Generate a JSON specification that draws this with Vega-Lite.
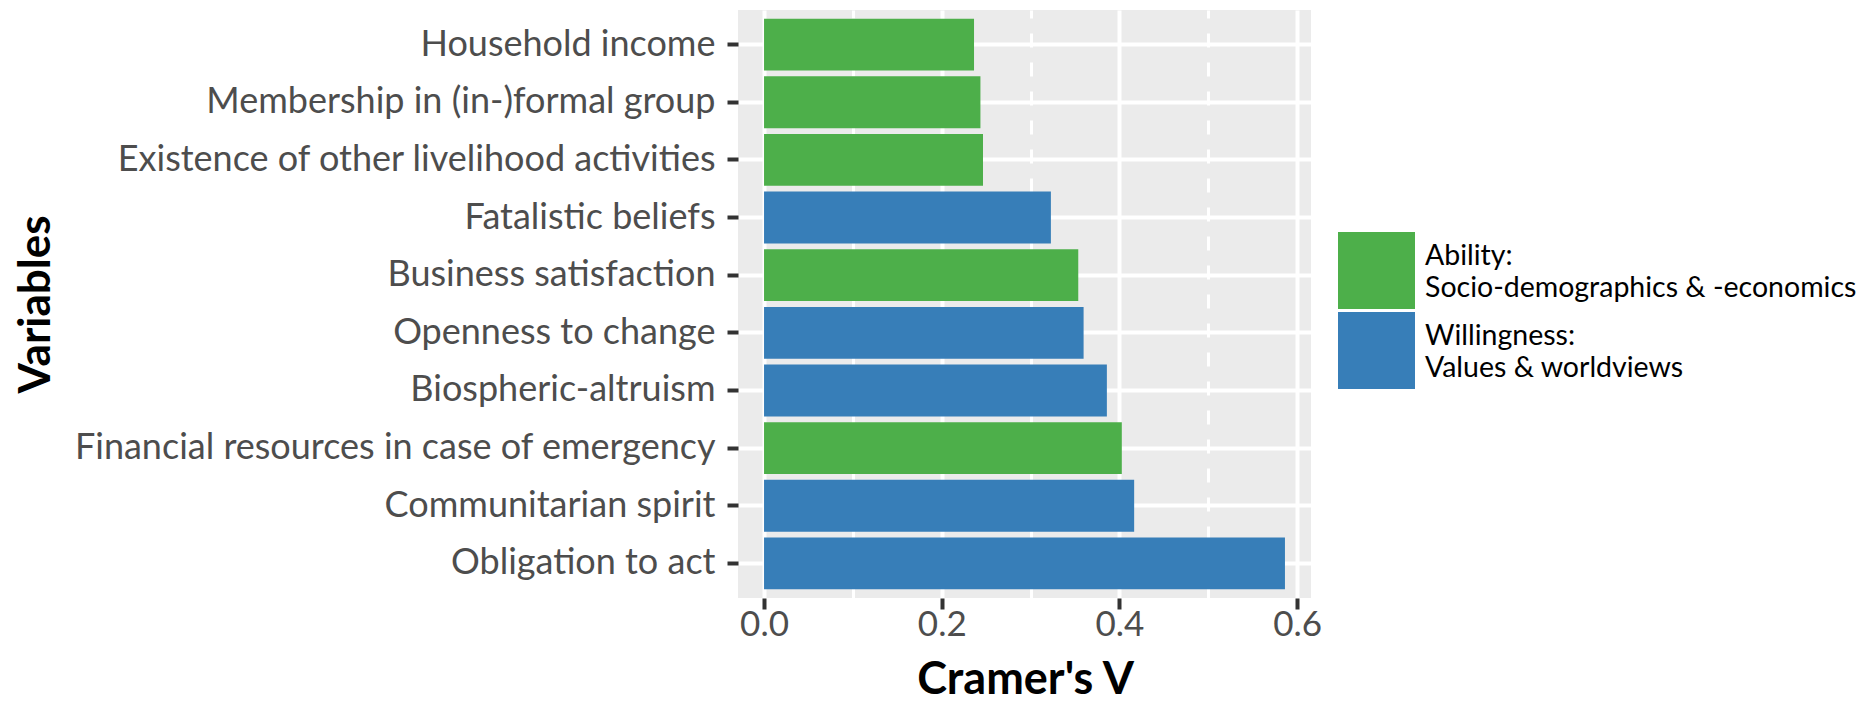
{
  "$schema": "https://vega.github.io/schema/vega-lite/v6.json",
  "autosize": {"type": "none"},
  "padding": {"left": 738, "top": 10, "right": 553, "bottom": 106},
  "width": 573,
  "height": 588,
  "background": "white",
  "config": {
    "view": {"fill": "#EBEBEB", "stroke": null},
    "font": "Lato",
    "style": {"guide-label": {"lineHeight": 32}}
  },
  "data": {
    "values": [
      {"variable": "Household income", "v": 0.2363, "group": "Ability: Socio-demographics & -economics"},
      {"variable": "Membership in (in-)formal group", "v": 0.2435, "group": "Ability: Socio-demographics & -economics"},
      {"variable": "Existence of other livelihood activities", "v": 0.2464, "group": "Ability: Socio-demographics & -economics"},
      {"variable": "Fatalistic beliefs", "v": 0.3228, "group": "Willingness: Values & worldviews"},
      {"variable": "Business satisfaction", "v": 0.3536, "group": "Ability: Socio-demographics & -economics"},
      {"variable": "Openness to change", "v": 0.3596, "group": "Willingness: Values & worldviews"},
      {"variable": "Biospheric-altruism", "v": 0.3858, "group": "Willingness: Values & worldviews"},
      {"variable": "Financial resources in case of emergency", "v": 0.4026, "group": "Ability: Socio-demographics & -economics"},
      {"variable": "Communitarian spirit", "v": 0.4165, "group": "Willingness: Values & worldviews"},
      {"variable": "Obligation to act", "v": 0.5862, "group": "Willingness: Values & worldviews"}
    ]
  },
  "mark": {"type": "bar"},
  "encoding": {
    "y": {
      "field": "variable",
      "type": "nominal",
      "sort": ["Household income", "Membership in (in-)formal group", "Existence of other livelihood activities", "Fatalistic beliefs", "Business satisfaction", "Openness to change", "Biospheric-altruism", "Financial resources in case of emergency", "Communitarian spirit", "Obligation to act"],
      "scale": {"paddingInner": 0.1, "paddingOuter": 0.15},
      "axis": {
        "title": "Variables",
        "titleFont": "Lato",
        "titleFontSize": 44,
        "titleFontWeight": "bold",
        "titleColor": "#000000",
        "titleX": -702,
        "titleY": 294,
        "titleAngle": -90,
        "titleAlign": "center",
        "titleBaseline": "middle",
        "labelFont": "Lato",
        "labelFontSize": 36,
        "labelColor": "#4D4D4D",
        "labelPadding": 12,
        "labelLimit": 1000,
        "tickColor": "#333333",
        "tickWidth": 4,
        "tickSize": 11,
        "domain": false,
        "grid": true,
        "bandPosition": 0.5,
        "gridColor": "#FFFFFF",
        "gridWidth": 4
      }
    },
    "x": {
      "field": "v",
      "type": "quantitative",
      "scale": {"domain": [-0.0293, 0.6155], "nice": false, "zero": false},
      "axis": {
        "title": "Cramer's V",
        "titleFont": "Lato",
        "titleFontSize": 45,
        "titleFontWeight": "bold",
        "titleColor": "#000000",
        "titleX": 287,
        "titleY": 81,
        "titleAlign": "center",
        "titleBaseline": "middle",
        "values": [0, 0.1, 0.2, 0.3, 0.4, 0.5, 0.6],
        "labelExpr": "round(datum.value * 10) % 2 == 1 ? '' : format(datum.value, '.1f')",
        "labelFont": "Lato",
        "labelFontSize": 35,
        "labelColor": "#4D4D4D",
        "labelPadding": -2,
        "labelFlush": false,
        "labelOverlap": false,
        "tickColor": "#333333",
        "tickWidth": 4,
        "tickSize": 11,
        "tickOpacity": {"condition": {"test": "round(datum.value * 10) % 2 == 1", "value": 0}, "value": 1},
        "domain": false,
        "grid": true,
        "gridColor": "#FFFFFF",
        "gridWidth": {"condition": {"test": "round(datum.value * 10) % 2 == 1", "value": 3}, "value": 4},
        "gridDash": {"condition": {"test": "round(datum.value * 10) % 2 == 1", "value": [14, 15]}, "value": []}
      }
    },
    "x2": {"datum": 0},
    "color": {
      "field": "group",
      "type": "nominal",
      "scale": {
        "domain": ["Ability: Socio-demographics & -economics", "Willingness: Values & worldviews"],
        "range": ["#4DAF4A", "#377EB8"]
      },
      "legend": {
        "title": null,
        "orient": "none",
        "legendX": 600,
        "legendY": 222,
        "padding": 0,
        "symbolType": "square",
        "symbolSize": 5929,
        "symbolStrokeWidth": 0,
        "symbolOpacity": 1,
        "rowPadding": 3,
        "labelOffset": 10,
        "labelFont": "Lato",
        "labelFontSize": 28.5,
        "labelColor": "#000000",
        "labelLimit": 1000,
        "labelBaseline": "bottom",
        "labelExpr": "[split(datum.label, ': ')[0] + ':', split(datum.label, ': ')[1]]"
      }
    }
  }
}
